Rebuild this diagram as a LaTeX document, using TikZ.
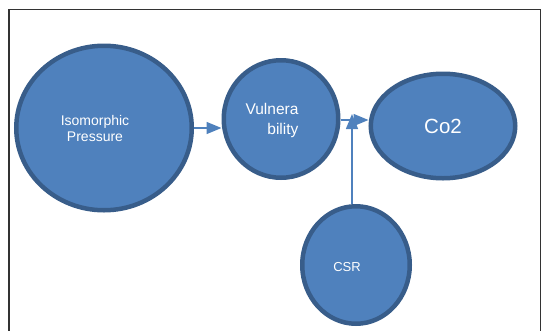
\documentclass[tikz,border=0pt]{standalone}
\usepackage{fontspec}
\setsansfont{Liberation Sans}
\usetikzlibrary{shapes.geometric,arrows.meta}

\definecolor{bubblefill}{HTML}{4F81BD}
\definecolor{bubbleline}{HTML}{385D8A}

\begin{document}
\begin{tikzpicture}[
  x=1pt,y=-1pt,
  font=\sffamily,
  bubble/.style={ellipse,fill=bubblefill,draw=bubbleline,line width=4.5pt,inner sep=0pt},
  txt/.style={font=\sffamily,text=white,align=center,inner sep=0pt},
  arr/.style={-{Triangle[length=15pt,width=12pt]},line width=1.5pt,bubblefill},
  frame/.style={draw=black!80,line width=1.2pt},
]
\useasboundingbox (0,0) rectangle (546,330);
% ===== outer frame (bottom edge cut off) =====
\draw[frame] (9,340) -- (9,9.5) -- (540.5,9.5) -- (540.5,340);

% ===== bubbles =====
\node[bubble,minimum width=175.5pt,minimum height=164.5pt,
  label={[txt,xshift=-9pt,font=\sffamily\fontsize{14}{16}\selectfont]center:{Isomorphic\\Pressure}}]
  (iso) at (104,128) {};
\node[bubble,minimum width=114.5pt,minimum height=117.5pt,
  label={[txt,align=right,xshift=-9pt,yshift=-1pt,font=\sffamily\fontsize{15.5}{20}\selectfont]center:{Vulnera\\bility}}]
  (vuln) at (281,119) {};
\node[bubble,minimum width=144.5pt,minimum height=104.5pt,
  label={[txt,yshift=-0.5pt,font=\sffamily\fontsize{20.5}{24}\selectfont]center:Co2}]
  (co2) at (443,126) {};
\node[bubble,minimum width=107.5pt,minimum height=117.5pt,
  label={[txt,xshift=-9pt,yshift=-2pt,font=\sffamily\fontsize{13}{15}\selectfont]center:CSR}]
  (csr) at (356,265) {};

% ===== connectors =====
\coordinate (join) at (352,114);
\draw[arr] (iso.east) -- (iso.east -| vuln.west);
\draw[arr] ([yshift=-1pt]vuln.east) -- ([yshift=-1pt]vuln.east -| co2.west);
\draw[arr] (csr.north -| join) -- (join);
\end{tikzpicture}
\end{document}
